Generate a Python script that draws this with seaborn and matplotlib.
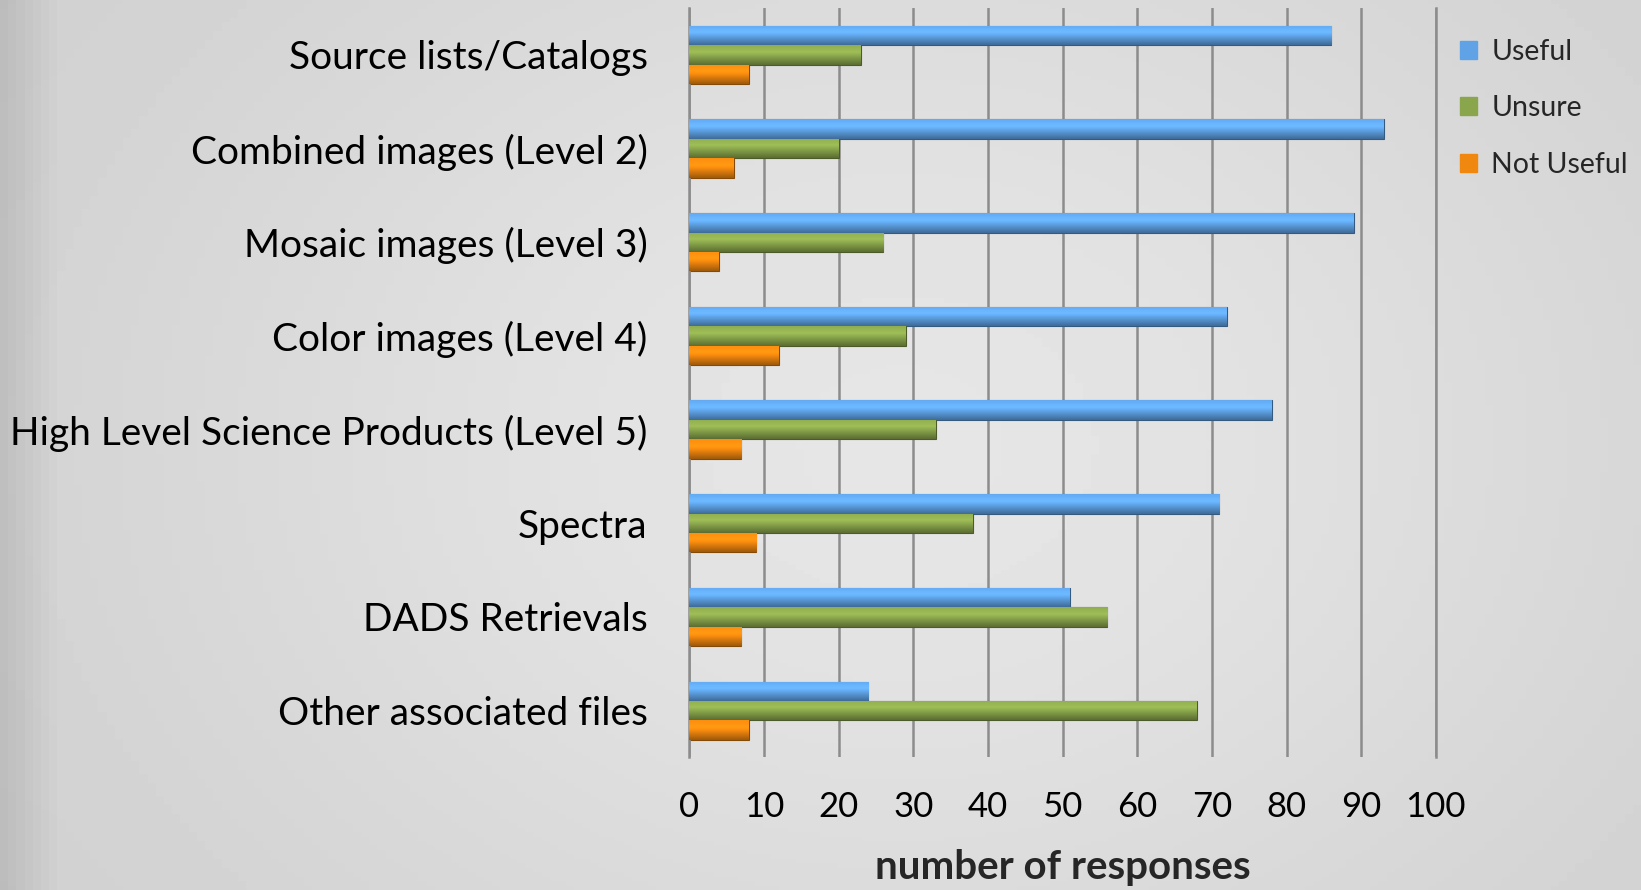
import matplotlib.pyplot as plt
import matplotlib.colors as mcolors
import seaborn as sns
import pandas as pd
import numpy as np

# -------------------------------
# Data
# -------------------------------
categories = [
    "Source lists/Catalogs",
    "Combined images (Level 2)",
    "Mosaic images (Level 3)",
    "Color images (Level 4)",
    "High Level Science Products (Level 5)",
    "Spectra",
    "DADS Retrievals",
    "Other associated files",
]
useful = [86, 93, 89, 72, 78, 71, 51, 24]
unsure = [23, 20, 26, 29, 33, 38, 56, 68]
not_useful = [8, 6, 4, 12, 7, 9, 7, 8]
series = ["Useful", "Unsure", "Not Useful"]
colors = ["#5fa3e6", "#8aa64c", "#f0870f"]

df = pd.DataFrame({
    "category": categories * 3,
    "response": ["Useful"] * 8 + ["Unsure"] * 8 + ["Not Useful"] * 8,
    "count": useful + unsure + not_useful,
})

sns.set_style("white")
plt.rcParams["font.family"] = ["Lato", "DejaVu Sans"]

fig = plt.figure(figsize=(16.41, 8.9), dpi=100)

# light grey background with a soft gradient
bg = fig.add_axes([0, 0, 1, 1], zorder=-10)
yy, xx = np.mgrid[0:1:200j, 0:1:200j]
grad = 0.80 + 0.10 * np.exp(-((xx - 0.55) ** 2 / 0.25 + (yy - 0.5) ** 2 / 0.5))
grad[:, :8] -= np.linspace(0.08, 0, 8)
bg.imshow(grad, cmap="gray", vmin=0, vmax=1, aspect="auto", extent=[0, 1, 0, 1])
bg.axis("off")
fig.patch.set_facecolor("#d8d8d8")

ax = fig.add_axes([0.42, 0.149, 0.455, 0.842])
ax.set_facecolor("none")

sns.barplot(data=df, y="category", x="count", hue="response", order=categories,
            hue_order=series, palette=colors, width=0.62, orient="h",
            edgecolor="none", saturation=1, ax=ax)

# 3D-ish vertical shading on each bar
for patch in ax.patches:
    if patch.get_width() <= 0:
        continue
    base = np.array(mcolors.to_rgb(patch.get_facecolor()))
    x0, y0 = patch.get_x(), patch.get_y()
    w, h = patch.get_width(), patch.get_height()
    t = np.linspace(0, 1, 40)[:, None]
    shade = np.where(t < 0.35, 1.15 - 0.3 * (0.35 - t), 1.15 - 0.75 * (t - 0.35))
    img = np.clip(base[None, None, :] * shade[:, :, None], 0, 1)
    img = np.repeat(img, 2, axis=1)
    im = ax.imshow(img, extent=[x0, x0 + w, y0 + h, y0], aspect="auto",
                   zorder=3, interpolation="bilinear")
    im.set_clip_path(patch)
    patch.set_edgecolor(tuple(base * 0.55))
    patch.set_linewidth(0.8)

ax.set_xlim(0, 100)
ax.set_ylim(7.5, -0.5)
ax.set_xticks(range(0, 101, 10))
ax.xaxis.grid(True, color="#8c8c8c", linewidth=1.8)
ax.set_axisbelow(True)
for side in ["top", "bottom"]:
    ax.spines[side].set_visible(False)
for side in ["left", "right"]:
    ax.spines[side].set_color("#8c8c8c")
    ax.spines[side].set_linewidth(1.8)
ax.tick_params(axis="x", length=0, labelsize=25, colors="black", pad=24)
ax.tick_params(axis="y", length=0, labelsize=28, colors="black", pad=30)
ax.set_ylabel("")
ax.set_xlabel("number of responses", fontsize=29, fontweight="bold", labelpad=19)

ax.get_legend().remove()
handles = [plt.Rectangle((0, 0), 1, 1, color=c) for c in colors]
fig.legend(handles, series, loc="upper left", bbox_to_anchor=(0.874, 0.985),
           frameon=False, fontsize=20.5, handlelength=0.6, handleheight=0.6,
           handletextpad=0.5, labelspacing=1.07)

fig.savefig("out.png", dpi=100)
